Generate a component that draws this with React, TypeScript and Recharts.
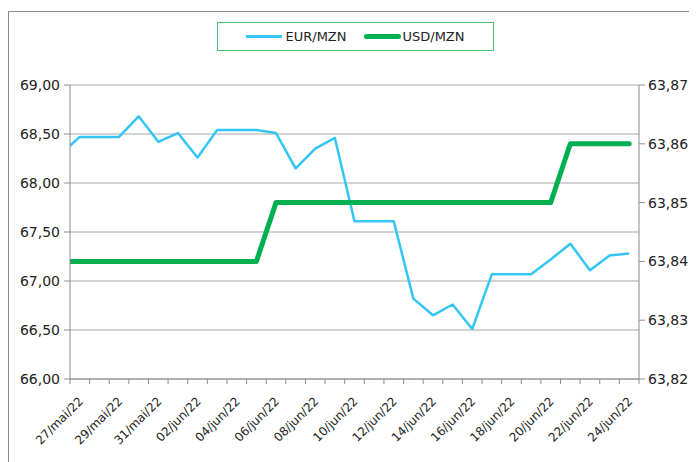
import { CartesianGrid, Legend, Line, LineChart, XAxis, YAxis } from "recharts";

// one point per day, plotted in the middle of its day slot
const dates = [
  "27/mai/22", "28/mai/22", "29/mai/22", "30/mai/22", "31/mai/22",
  "01/jun/22", "02/jun/22", "03/jun/22", "04/jun/22", "05/jun/22",
  "06/jun/22", "07/jun/22", "08/jun/22", "09/jun/22", "10/jun/22",
  "11/jun/22", "12/jun/22", "13/jun/22", "14/jun/22", "15/jun/22",
  "16/jun/22", "17/jun/22", "18/jun/22", "19/jun/22", "20/jun/22",
  "21/jun/22", "22/jun/22", "23/jun/22", "24/jun/22",
];

const eurMzn = [
  68.47, 68.47, 68.47, 68.68, 68.42, 68.51, 68.26, 68.54, 68.54, 68.54,
  68.51, 68.15, 68.35, 68.46, 67.61, 67.61, 67.61, 66.82, 66.65, 66.76,
  66.51, 67.07, 67.07, 67.07, 67.22, 67.38, 67.11, 67.26, 67.28,
];

const usdMzn = [
  63.84, 63.84, 63.84, 63.84, 63.84, 63.84, 63.84, 63.84, 63.84, 63.84,
  63.85, 63.85, 63.85, 63.85, 63.85, 63.85, 63.85, 63.85, 63.85, 63.85,
  63.85, 63.85, 63.85, 63.85, 63.85, 63.86, 63.86, 63.86, 63.86,
];

// 26/mai, just left of the axis start (the lines run in from the edge)
const prevEur = 68.29;
const prevUsd = 63.84;

const leftTicks = [66, 66.5, 67, 67.5, 68, 68.5, 69];
const rightTicks = [63.82, 63.83, 63.84, 63.85, 63.86, 63.87];

const EUR_COLOR = "#33c6f5";
const USD_COLOR = "#00b050";
const AXIS_COLOR = "#8c8c8c";
const FONT = "'DejaVu Sans', sans-serif";

const chartData = [
  { x: -0.5, eur: prevEur, usd: prevUsd },
  ...dates.map((d, i) => ({ x: i + 0.5, date: d, eur: eurMzn[i], usd: usdMzn[i] })),
];

const dayBounds = Array.from({ length: dates.length + 1 }, (_, i) => i);
const labelTicks = dates.map((_, i) => i + 0.5).filter((_, i) => i % 2 === 0);

const fmt = (v: number) => v.toFixed(2).replace(".", ",");

function DateTick(props: any) {
  const { x, y, payload } = props;
  const label = dates[Math.floor(payload.value)];
  const ax = x + 4;
  const ay = y + 14;
  return (
    <text
      x={ax}
      y={ay}
      transform={`rotate(-45, ${ax}, ${ay})`}
      textAnchor="end"
      fontSize={12}
      fontFamily={FONT}
      fill="#222"
    >
      {label}
    </text>
  );
}

function LegendBox() {
  return (
    <div
      style={{
        border: "1px solid #4cc070",
        height: 29,
        display: "flex",
        alignItems: "center",
        justifyContent: "center",
        gap: 18,
        fontFamily: FONT,
        fontSize: 13,
        color: "#222",
        boxSizing: "border-box",
      }}
    >
      <span style={{ display: "flex", alignItems: "center" }}>
        <span style={{ width: 36, height: 3, background: EUR_COLOR, marginRight: 3 }} />
        EUR/MZN
      </span>
      <span style={{ display: "flex", alignItems: "center" }}>
        <span style={{ width: 37, height: 5, borderRadius: 3, background: USD_COLOR, marginRight: 1 }} />
        USD/MZN
      </span>
    </div>
  );
}

export default function App() {
  return (
    <div style={{ marginTop: 3, border: `1px solid ${AXIS_COLOR}`, width: 700, height: 452 }}>
      <LineChart
        width={690}
        height={450}
        data={chartData}
        margin={{ top: 73, right: 10, left: 11, bottom: 23 }}
      >
        <CartesianGrid yAxisId="left" xAxisId="lbl" vertical={false} stroke="#a6a6a6" />
        <XAxis
          xAxisId="days"
          type="number"
          dataKey="x"
          domain={[0, dates.length]}
          ticks={dayBounds}
          interval={0}
          tickFormatter={() => ""}
          height={1}
          tickSize={5}
          stroke={AXIS_COLOR}
          tickLine={{ stroke: AXIS_COLOR }}
          allowDataOverflow
        />
        <XAxis
          xAxisId="lbl"
          type="number"
          dataKey="x"
          domain={[0, dates.length]}
          ticks={labelTicks}
          interval={0}
          axisLine={false}
          tickLine={false}
          tick={<DateTick />}
          height={59}
          allowDataOverflow
        />
        <YAxis
          yAxisId="left"
          domain={[66, 69]}
          ticks={leftTicks}
          interval={0}
          width={50}
          tickSize={6}
          tickMargin={4}
          stroke={AXIS_COLOR}
          tickFormatter={fmt}
          tick={{ fill: "#222", fontSize: 14, fontFamily: FONT }}
          allowDataOverflow
        />
        <YAxis
          yAxisId="right"
          orientation="right"
          domain={[63.82, 63.87]}
          ticks={rightTicks}
          interval={0}
          width={50}
          tickSize={6}
          tickMargin={3}
          stroke={AXIS_COLOR}
          tickFormatter={fmt}
          tick={{ fill: "#222", fontSize: 14, fontFamily: FONT }}
          allowDataOverflow
        />
        <Legend
          layout="horizontal"
          verticalAlign="middle"
          align="center"
          wrapperStyle={{ top: 10, left: 208, width: 277, height: 31 }}
          content={() => <LegendBox />}
        />
        <Line
          xAxisId="lbl"
          yAxisId="left"
          type="linear"
          dataKey="eur"
          name="EUR/MZN"
          stroke={EUR_COLOR}
          strokeWidth={2.5}
          strokeLinejoin="round"
          dot={false}
          activeDot={false}
          isAnimationActive={false}
        />
        <Line
          xAxisId="lbl"
          yAxisId="right"
          type="linear"
          dataKey="usd"
          name="USD/MZN"
          stroke={USD_COLOR}
          strokeWidth={5}
          strokeLinejoin="round"
          strokeLinecap="round"
          dot={false}
          activeDot={false}
          isAnimationActive={false}
        />
      </LineChart>
    </div>
  );
}
